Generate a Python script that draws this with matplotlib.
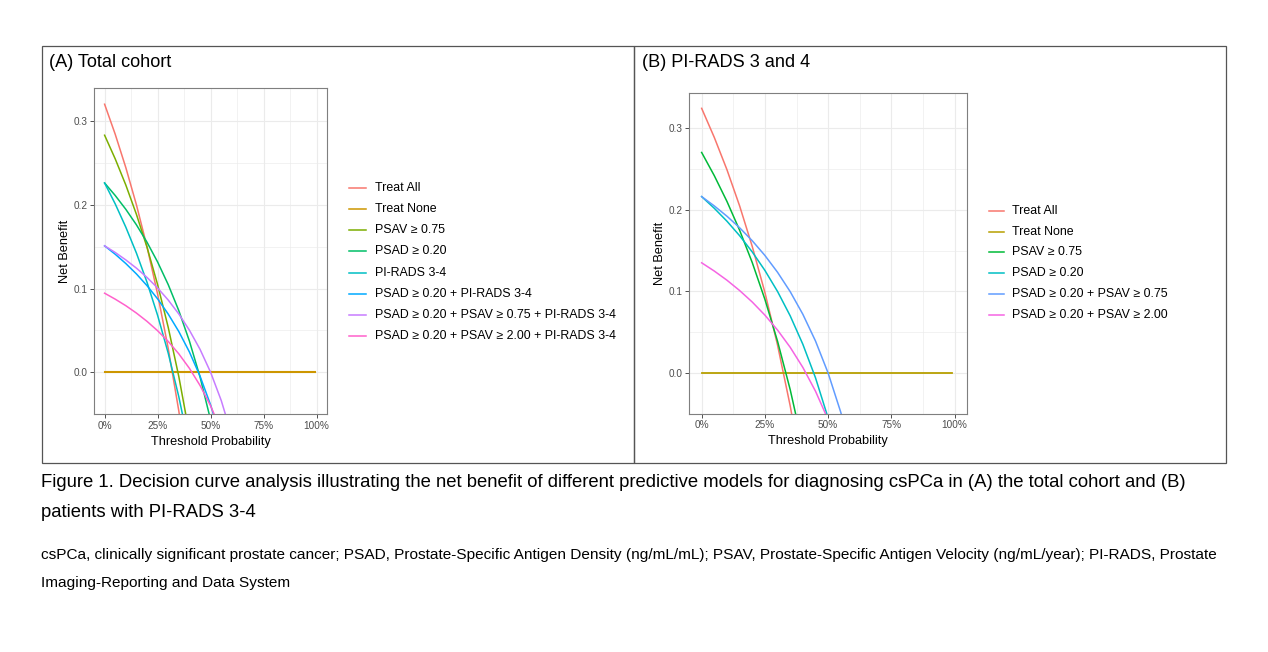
import matplotlib
matplotlib.use("Agg")
import matplotlib.pyplot as plt
from matplotlib.lines import Line2D
from matplotlib.patches import Rectangle

plt.rcParams['font.family'] = ['Liberation Sans', 'DejaVu Sans']

# ---------------- data ----------------
thresholds = [0.00, 0.05, 0.10, 0.15, 0.20, 0.25, 0.30, 0.35, 0.40, 0.45, 0.50, 0.55, 0.60]

# Panel A: Total cohort
a_labels = ["Treat All", "Treat None", "PSAV \u2265 0.75", "PSAD \u2265 0.20", "PI-RADS 3-4",
            "PSAD \u2265 0.20 + PI-RADS 3-4",
            "PSAD \u2265 0.20 + PSAV \u2265 0.75 + PI-RADS 3-4",
            "PSAD \u2265 0.20 + PSAV \u2265 2.00 + PI-RADS 3-4"]
a_treat_all = [0.320, 0.2842, 0.2444, 0.2000, 0.1500, 0.0933, 0.0286, -0.0462, -0.1333]
a_treat_none_x = [0.00, 0.99]
a_treat_none = [0.0, 0.0]
a_psav075 = [0.283, 0.2548, 0.2236, 0.1886, 0.1493, 0.1047, 0.0537, -0.0051, -0.0737]
a_psad020 = [0.226, 0.2111, 0.1946, 0.1761, 0.1553, 0.1317, 0.1047, 0.0736, 0.0373, -0.0055, -0.0570]
a_pirads = [0.226, 0.2011, 0.1733, 0.1424, 0.1075, 0.0680, 0.0229, -0.0292, -0.0900]
a_psad_pirads = [0.151, 0.1410, 0.1299, 0.1175, 0.1035, 0.0877, 0.0696, 0.0487, 0.0243, -0.0045, -0.0390, -0.0812]
a_psad_psav075_pirads = [0.151, 0.1431, 0.1342, 0.1244, 0.1133, 0.1007, 0.0863, 0.0697, 0.0503, 0.0275, 0.0000, -0.0336, -0.0755]
a_psad_psav200_pirads = [0.0945, 0.0874, 0.0796, 0.0708, 0.0609, 0.0497, 0.0369, 0.0221, 0.0048, -0.0156, -0.0400, -0.0699]

# Panel B: PI-RADS 3 and 4
b_labels = ["Treat All", "Treat None", "PSAV \u2265 0.75", "PSAD \u2265 0.20",
            "PSAD \u2265 0.20 + PSAV \u2265 0.75", "PSAD \u2265 0.20 + PSAV \u2265 2.00"]
b_treat_all = [0.324, 0.2884, 0.2489, 0.2047, 0.1550, 0.0987, 0.0343, -0.0400, -0.1267]
b_treat_none_x = [0.00, 0.99]
b_treat_none = [0.0, 0.0]
b_psav075 = [0.270, 0.2416, 0.2101, 0.1749, 0.1353, 0.0903, 0.0390, -0.0202, -0.0893]
b_psad020 = [0.216, 0.2017, 0.1859, 0.1682, 0.1483, 0.1257, 0.0999, 0.0701, 0.0353, -0.0057, -0.0550]
b_psad_psav075 = [0.216, 0.2046, 0.1920, 0.1779, 0.1620, 0.1440, 0.1234, 0.0997, 0.0720, 0.0393, 0.0000, -0.0480, -0.1080]
b_psad_psav200 = [0.135, 0.1249, 0.1137, 0.1011, 0.0870, 0.0710, 0.0527, 0.0316, 0.0070, -0.0221, -0.0570]

x_ticks = [0, 0.25, 0.5, 0.75, 1.0]
x_ticklabels = ["0%", "25%", "50%", "75%", "100%"]
y_ticks = [0.0, 0.1, 0.2, 0.3]
y_ticklabels = ["0.0", "0.1", "0.2", "0.3"]

title_a = "(A) Total cohort"
title_b = "(B) PI-RADS 3 and 4"
caption_1 = ("Figure 1. Decision curve analysis illustrating the net benefit of different predictive "
             "models for diagnosing csPCa in (A) the total cohort and (B)")
caption_2 = "patients with PI-RADS 3-4"
note_1 = ("csPCa, clinically significant prostate cancer; PSAD, Prostate-Specific Antigen Density "
          "(ng/mL/mL); PSAV, Prostate-Specific Antigen Velocity (ng/mL/year); PI-RADS, Prostate")
note_2 = "Imaging-Reporting and Data System"

a_colors = ["#F8766D", "#CD9600", "#7CAE00", "#00BE67", "#00BFC4", "#00A9FF", "#C77CFF", "#FF61CC"]
b_colors = ["#F8766D", "#B79F00", "#00BA38", "#00BFC4", "#619CFF", "#F564E3"]

# ---------------- figure ----------------
W, H = 1268, 652
fig = plt.figure(figsize=(W / 100, H / 100), dpi=100)


def fx(px):
    return px / W


def fy(py):
    return 1 - py / H


# outer boxes
for x0, x1 in [(41.7, 633.7), (633.7, 1226)]:
    fig.add_artist(Rectangle((fx(x0), fy(462.7)), fx(x1) - fx(x0), fy(46) - fy(462.7),
                             transform=fig.transFigure, fill=False, edgecolor="#555555", lw=0.9))

fig.text(fx(49), fy(62.5), title_a, fontsize=13.1, va="center", ha="left", color="black")
fig.text(fx(641.7), fy(62.5), title_b, fontsize=13.1, va="center", ha="left", color="black")


def make_axes(left, right, top, bottom, ylim):
    ax = fig.add_axes([fx(left), fy(bottom), fx(right) - fx(left), fy(top) - fy(bottom)])
    ax.set_xlim(-0.05, 1.05)
    ax.set_ylim(*ylim)
    ax.set_xticks(x_ticks)
    ax.set_xticklabels(x_ticklabels)
    ax.set_yticks(y_ticks)
    ax.set_yticklabels(y_ticklabels)
    ax.set_xticks([0.125, 0.375, 0.625, 0.875], minor=True)
    ax.set_yticks([-0.05, 0.05, 0.15, 0.25], minor=True)
    ax.grid(which="major", color="#EBEBEB", lw=0.8)
    ax.grid(which="minor", color="#EBEBEB", lw=0.45)
    ax.set_axisbelow(True)
    ax.tick_params(which="minor", length=0)
    ax.tick_params(which="major", length=2.8, width=0.6, color="#333333",
                   labelsize=7.2, labelcolor="#4D4D4D", pad=1.8)
    for s in ax.spines.values():
        s.set_color("#7F7F7F")
        s.set_linewidth(0.8)
    ax.set_xlabel("Threshold Probability", fontsize=9.2, labelpad=3.6)
    ax.set_ylabel("Net Benefit", fontsize=9.2, labelpad=2)
    return ax


def draw_legend(labels, colors, key_x0, key_x1, text_x, y0, dy):
    for i, (lab, col) in enumerate(zip(labels, colors)):
        y = y0 + i * dy
        fig.add_artist(Line2D([fx(key_x0), fx(key_x1)], [fy(y), fy(y)],
                              transform=fig.transFigure, color=col, lw=1.1))
        fig.text(fx(text_x), fy(y), lab, fontsize=8.9, va="center", ha="left", color="black")


# Panel A
axA = make_axes(94, 327.3, 88.3, 414.3, (-0.0486, 0.339))
a_series = [a_treat_all, None, a_psav075, a_psad020, a_pirads,
            a_psad_pirads, a_psad_psav075_pirads, a_psad_psav200_pirads]
for i, (vals, col) in enumerate(zip(a_series, a_colors)):
    if vals is None:
        axA.plot(a_treat_none_x, a_treat_none, color=col, lw=1.5)
    else:
        axA.plot(thresholds[:len(vals)], vals, color=col, lw=1.1)
draw_legend(a_labels, a_colors, 349, 366, 375, 188.3, 21.06)

# Panel B
axB = make_axes(689, 967.3, 93.3, 414, (-0.0498, 0.3424))
b_series = [b_treat_all, None, b_psav075, b_psad020, b_psad_psav075, b_psad_psav200]
for i, (vals, col) in enumerate(zip(b_series, b_colors)):
    if vals is None:
        axB.plot(b_treat_none_x, b_treat_none, color=col, lw=1.3)
    else:
        axB.plot(thresholds[:len(vals)], vals, color=col, lw=1.1)
draw_legend(b_labels, b_colors, 989.3, 1004, 1012.3, 210.7, 20.9)

# captions (font size fitted to the reference line widths)
renderer = fig.canvas.get_renderer()


def fitted_text(x, y, s, size, target_width):
    t = fig.text(fx(x), fy(y), s, fontsize=size, va="center", ha="left", color="black")
    w = t.get_window_extent(renderer=renderer).width
    t.set_fontsize(size * target_width / w)
    return t.get_fontsize()


cap_size = fitted_text(41, 482.5, caption_1, 13, 1144)
fig.text(fx(41), fy(512.7), caption_2, fontsize=cap_size, va="center", ha="left", color="black")
note_size = fitted_text(41, 555, note_1, 10, 1176)
fig.text(fx(41), fy(583), note_2, fontsize=note_size, va="center", ha="left", color="black")

fig.savefig("out.png", dpi=100)
